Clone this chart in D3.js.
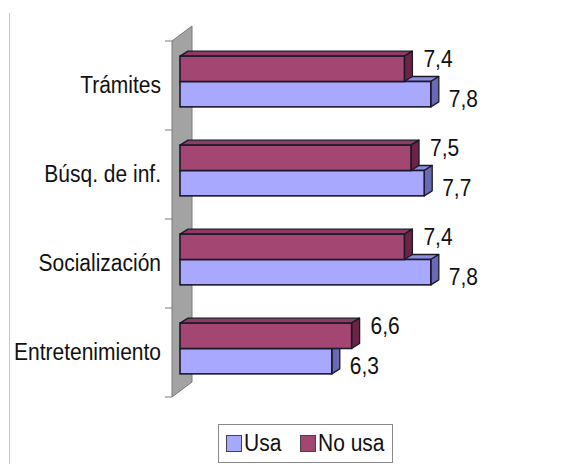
<!DOCTYPE html>
<html>
<head>
<meta charset="utf-8">
<script src="https://cdn.jsdelivr.net/npm/d3@7"></script>
<style>
  html, body { margin: 0; padding: 0; background: #fff; }
  svg { display: block; }
  text { font-family: "Liberation Sans", Arial, Helvetica, sans-serif; fill: #111; }
</style>
</head>
<body>
<svg id="chart" width="584" height="464"></svg>
<script>
const categories = ["Trámites", "Búsq. de inf.", "Socialización", "Entretenimiento"];
const seriesNames = ["Usa", "No usa"];
const usaValues = [7.8, 7.7, 7.8, 6.3];
const noUsaValues = [7.4, 7.5, 7.4, 6.6];
const usaLabels = ["7,8", "7,7", "7,8", "6,3"];
const noUsaLabels = ["7,4", "7,5", "7,4", "6,6"];

const svg = d3.select("#chart");

const x = d3.scaleLinear().domain([4, 9]).range([180, 510]);
const y = d3.scaleBand().domain(categories).range([41, 397]).padding(0);

const wallDX = 20, wallDY = -15;
const barDX = 8, barDY = -5;
const fontSize = 21, sy = 1.12;

// left frame line
svg.append("line").attr("x1", 9.5).attr("x2", 9.5).attr("y1", 13).attr("y2", 464)
  .attr("stroke", "#c8c8c8").attr("stroke-width", 1);

// wall
const wx = x(4) - 8;
const [wt, wb] = y.range();
svg.append("path")
  .attr("d", `M${wx},${wt} L${wx + wallDX},${wt + wallDY} L${wx + wallDX},${wb + wallDY} L${wx},${wb} Z`)
  .attr("fill", "#a3a3a3").attr("stroke", "#7a7a7a").attr("stroke-width", 1);

// ticks on the category axis
const tickYs = categories.map(c => y(c)).concat([wb]);
svg.selectAll(".tick").data(tickYs).enter().append("line")
  .attr("x1", wx - 7).attr("x2", wx).attr("y1", d => d).attr("y2", d => d)
  .attr("stroke", "#7a7a7a").attr("stroke-width", 1);

const styles = {
  "Usa":    { front: "#a8a8ff", top: "#8c8ce0", side: "#6a6ab4" },
  "No usa": { front: "#a44672", top: "#8e3a62", side: "#6c2345" }
};

function drawBar(g, v, yt, h, st) {
  const x0 = x(4), x1 = x(v);
  g.append("path")
    .attr("d", `M${x0},${yt} L${x0 + barDX},${yt + barDY} L${x1 + barDX},${yt + barDY} L${x1},${yt} Z`)
    .attr("fill", st.top).attr("stroke", "#1a1a2a").attr("stroke-width", 1.3).attr("stroke-linejoin", "round");
  g.append("path")
    .attr("d", `M${x1},${yt} L${x1 + barDX},${yt + barDY} L${x1 + barDX},${yt + h + barDY} L${x1},${yt + h} Z`)
    .attr("fill", st.side).attr("stroke", "#1a1a2a").attr("stroke-width", 1.3).attr("stroke-linejoin", "round");
  g.append("rect")
    .attr("x", x0).attr("y", yt).attr("width", x1 - x0).attr("height", h)
    .attr("fill", st.front).attr("stroke", "#1a1a2a").attr("stroke-width", 1.6);
}

const h = y.bandwidth() * 0.285;
categories.forEach((c, i) => {
  const g = svg.append("g");
  const cy = y(c) + y.bandwidth() / 2 - 4;
  // Usa below, drawn first; No usa above
  drawBar(g, usaValues[i], cy, h, styles["Usa"]);
  drawBar(g, noUsaValues[i], cy - h, h, styles["No usa"]);

  g.append("text")
    .attr("transform", `translate(${x(noUsaValues[i]) + 19},${cy - h / 2 - 10}) scale(1,${sy})`)
    .attr("dominant-baseline", "central").attr("font-size", fontSize)
    .text(noUsaLabels[i]);
  g.append("text")
    .attr("transform", `translate(${x(usaValues[i]) + 18},${cy + h / 2 + 5}) scale(1,${sy})`)
    .attr("dominant-baseline", "central").attr("font-size", fontSize)
    .text(usaLabels[i]);

  g.append("text")
    .attr("transform", `translate(161,${y(c) + y.bandwidth() / 2}) scale(1,${sy})`)
    .attr("text-anchor", "end").attr("dominant-baseline", "central").attr("font-size", fontSize)
    .text(c);
});

// legend
const lg = svg.append("g");
lg.append("rect").attr("x", 218.5).attr("y", 424.5).attr("width", 174).attr("height", 38)
  .attr("fill", "#fff").attr("stroke", "#8a8a8a").attr("stroke-width", 1);
const legendItems = [
  { name: seriesNames[0], sx: 226, tx: 244 },
  { name: seriesNames[1], sx: 300, tx: 318 }
];
legendItems.forEach(it => {
  lg.append("rect").attr("x", it.sx + 0.5).attr("y", 435.5).attr("width", 15).attr("height", 16)
    .attr("fill", styles[it.name].front).attr("stroke", "#444").attr("stroke-width", 1);
  lg.append("text")
    .attr("transform", `translate(${it.tx},${443.5}) scale(1,${sy})`)
    .attr("dominant-baseline", "central").attr("font-size", fontSize)
    .text(it.name);
});
</script>
</body>
</html>
